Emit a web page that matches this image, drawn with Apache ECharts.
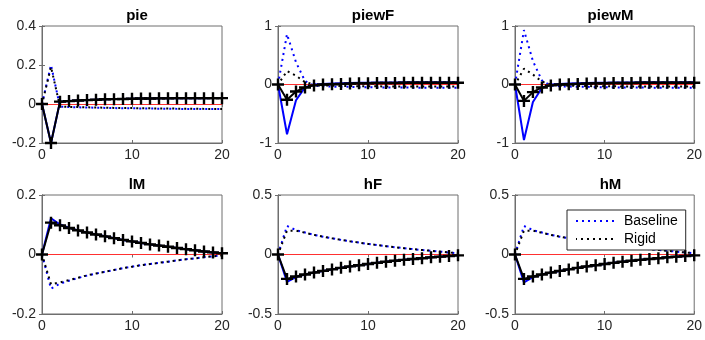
<!DOCTYPE html>
<html>
<head>
<meta charset="utf-8">
<script src="https://cdn.jsdelivr.net/npm/echarts@6/dist/echarts.min.js"></script>
<style>html,body{margin:0;padding:0;background:#fff;}#c{width:705px;height:340px;}</style>
</head>
<body>
<div id="c"></div>
<script>
// horizon
var periods = [0,1,2,3,4,5,6,7,8,9,10,11,12,13,14,15,16,17,18,19,20];

// panel titles
var titles = ['pie','piewF','piewM','lM','hF','hM'];

// y-axis settings (tick labels) per panel
var yMins = [-0.2,-1,-1,-0.2,-0.5,-0.5];
var yMaxs = [0.4,1,1,0.2,0.5,0.5];
var yIntervals = [0.2,1,1,0.2,0.5,0.5];
var xTicks = [0,10,20];

// pie
var pieBaseSolid  = [0,-0.2,0.012,0.015,0.018,0.02,0.022,0.024,0.025,0.026,0.027,0.028,0.028,0.029,0.029,0.03,0.03,0.03,0.03,0.031,0.031];
var pieRigidSolid = [0,-0.2,0.012,0.015,0.018,0.02,0.022,0.024,0.025,0.026,0.027,0.028,0.028,0.029,0.029,0.03,0.03,0.03,0.03,0.03,0.03];
var pieBaseDot    = [0,0.2,-0.014,-0.016,-0.017,-0.018,-0.019,-0.02,-0.021,-0.022,-0.022,-0.023,-0.023,-0.024,-0.024,-0.025,-0.025,-0.025,-0.026,-0.026,-0.026];
var pieRigidDot   = [0,0.19,-0.013,-0.015,-0.016,-0.017,-0.018,-0.019,-0.02,-0.021,-0.021,-0.022,-0.022,-0.023,-0.023,-0.024,-0.024,-0.024,-0.025,-0.025,-0.025];

// piewF
var piewFBaseSolid  = [0,-0.85,-0.27,-0.05,0,0.01,0.015,0.02,0.025,0.03,0.03,0.035,0.035,0.035,0.04,0.04,0.04,0.04,0.04,0.04,0.04];
var piewFRigidSolid = [0,-0.26,-0.12,-0.05,-0.015,0,0.005,0.01,0.015,0.02,0.02,0.025,0.025,0.025,0.03,0.03,0.03,0.03,0.03,0.03,0.03];
var piewFBaseDot    = [0,0.86,0.38,0.06,-0.02,-0.03,-0.035,-0.04,-0.04,-0.045,-0.045,-0.05,-0.05,-0.05,-0.05,-0.055,-0.055,-0.055,-0.055,-0.055,-0.055];
var piewFRigidDot   = [0,0.23,0.15,0.04,0,-0.015,-0.02,-0.025,-0.025,-0.03,-0.03,-0.03,-0.035,-0.035,-0.035,-0.035,-0.035,-0.035,-0.035,-0.035,-0.035];

// piewM
var piewMBaseSolid  = [0,-0.95,-0.3,-0.06,0,0.01,0.015,0.02,0.025,0.03,0.03,0.035,0.035,0.035,0.04,0.04,0.04,0.04,0.04,0.04,0.04];
var piewMRigidSolid = [0,-0.28,-0.13,-0.05,-0.015,0,0.005,0.01,0.015,0.02,0.02,0.025,0.025,0.025,0.03,0.03,0.03,0.03,0.03,0.03,0.03];
var piewMBaseDot    = [0,0.93,0.4,0.07,-0.02,-0.03,-0.035,-0.04,-0.04,-0.045,-0.045,-0.05,-0.05,-0.05,-0.05,-0.055,-0.055,-0.055,-0.055,-0.055,-0.055];
var piewMRigidDot   = [0,0.27,0.17,0.05,0,-0.015,-0.02,-0.025,-0.025,-0.03,-0.03,-0.03,-0.035,-0.035,-0.035,-0.035,-0.035,-0.035,-0.035,-0.035,-0.035];

// lM
var lMBaseSolid  = [0,0.122,0.101,0.09,0.081,0.074,0.067,0.061,0.055,0.049,0.044,0.039,0.034,0.03,0.026,0.022,0.018,0.014,0.01,0.007,0.004];
var lMRigidSolid = [0,0.107,0.098,0.089,0.081,0.074,0.067,0.061,0.055,0.049,0.044,0.039,0.034,0.03,0.026,0.022,0.018,0.014,0.01,0.007,0.004];
var lMBaseDot    = [0,-0.115,-0.098,-0.088,-0.079,-0.071,-0.064,-0.058,-0.052,-0.046,-0.041,-0.036,-0.032,-0.028,-0.024,-0.02,-0.016,-0.013,-0.009,-0.006,-0.003];
var lMRigidDot   = [0,-0.1,-0.094,-0.086,-0.078,-0.07,-0.064,-0.058,-0.052,-0.046,-0.041,-0.036,-0.032,-0.028,-0.024,-0.02,-0.016,-0.013,-0.009,-0.006,-0.003];

// hF
var hFBaseSolid  = [0,-0.23,-0.19,-0.168,-0.152,-0.138,-0.125,-0.112,-0.1,-0.09,-0.08,-0.07,-0.061,-0.053,-0.045,-0.038,-0.031,-0.024,-0.018,-0.012,-0.007];
var hFRigidSolid = [0,-0.205,-0.185,-0.168,-0.152,-0.138,-0.125,-0.112,-0.1,-0.09,-0.08,-0.07,-0.061,-0.053,-0.045,-0.038,-0.031,-0.024,-0.018,-0.012,-0.007];
var hFBaseDot    = [0,0.24,0.205,0.185,0.165,0.15,0.136,0.123,0.111,0.1,0.089,0.079,0.07,0.061,0.053,0.045,0.038,0.031,0.024,0.017,0.011];
var hFRigidDot   = [0,0.2,0.2,0.183,0.165,0.15,0.136,0.123,0.111,0.1,0.089,0.079,0.07,0.061,0.053,0.045,0.038,0.031,0.024,0.017,0.011];

// hM
var hMBaseSolid  = [0,-0.235,-0.19,-0.168,-0.152,-0.138,-0.125,-0.112,-0.1,-0.09,-0.08,-0.07,-0.061,-0.053,-0.045,-0.038,-0.031,-0.024,-0.018,-0.012,-0.007];
var hMRigidSolid = [0,-0.205,-0.185,-0.168,-0.152,-0.138,-0.125,-0.112,-0.1,-0.09,-0.08,-0.07,-0.061,-0.053,-0.045,-0.038,-0.031,-0.024,-0.018,-0.012,-0.007];
var hMBaseDot    = [0,0.24,0.205,0.185,0.165,0.15,0.136,0.123,0.111,0.1,0.089,0.079,0.07,0.061,0.053,0.045,0.038,0.031,0.024,0.017,0.011];
var hMRigidDot   = [0,0.2,0.2,0.183,0.165,0.15,0.136,0.123,0.111,0.1,0.089,0.079,0.07,0.061,0.053,0.045,0.038,0.031,0.024,0.017,0.011];

var panelData = [
  [pieBaseDot, pieRigidDot, pieBaseSolid, pieRigidSolid],
  [piewFBaseDot, piewFRigidDot, piewFBaseSolid, piewFRigidSolid],
  [piewMBaseDot, piewMRigidDot, piewMBaseSolid, piewMRigidSolid],
  [lMBaseDot, lMRigidDot, lMBaseSolid, lMRigidSolid],
  [hFBaseDot, hFRigidDot, hFBaseSolid, hFRigidSolid],
  [hMBaseDot, hMRigidDot, hMBaseSolid, hMRigidSolid]
];

// layout
var colLeft = [42, 278, 515];
var colWidth = [180, 180, 181];
var rowTop = [26, 195];
var rowHeight = [117, 119];

var FONT = '"Liberation Sans", Arial, Helvetica, sans-serif';
var BOX = '#6e6e6e';
var TXT = '#262626';
var plusPath = 'path://M4,0H6V4H10V6H6V10H4V6H0V4H4Z';

function pairs(arr){ return periods.map(function(p,i){ return [p, arr[i]]; }); }

var grids=[], xAxes=[], yAxes=[], series=[], titleList=[];
for (var k=0;k<6;k++){
  var r = Math.floor(k/3), c = k%3;
  grids.push({left:colLeft[c], top:rowTop[r], width:colWidth[c], height:rowHeight[r],
    show:true, borderColor:BOX, borderWidth:1, backgroundColor:'#fff', containLabel:false});
  titleList.push({text:titles[k], left:colLeft[c]+colWidth[c]/2, top:rowTop[r]-23, textAlign:'center',
    textStyle:{fontFamily:FONT, fontSize:15, fontWeight:'bold', color:'#000'}});
  var xi = xAxes.length;
  xAxes.push({type:'value', gridIndex:k, min:xTicks[0], max:xTicks[2], interval:xTicks[1]-xTicks[0],
    axisLine:{show:true, onZero:false, lineStyle:{color:BOX}},
    axisTick:{show:true, inside:true, length:3, lineStyle:{color:BOX}},
    axisLabel:{fontFamily:FONT, fontSize:14, color:TXT, margin:5},
    splitLine:{show:false}});
  xAxes.push({type:'value', gridIndex:k, position:'top', min:xTicks[0], max:xTicks[2], interval:xTicks[1]-xTicks[0],
    axisLine:{show:true, lineStyle:{color:BOX}},
    axisTick:{show:true, inside:true, length:3, lineStyle:{color:BOX}},
    axisLabel:{show:false}, splitLine:{show:false}});
  var yi = yAxes.length;
  yAxes.push({type:'value', gridIndex:k, min:yMins[k], max:yMaxs[k], interval:yIntervals[k],
    axisLine:{show:true, onZero:false, lineStyle:{color:BOX}},
    axisTick:{show:true, inside:true, length:3, lineStyle:{color:BOX}},
    axisLabel:{fontFamily:FONT, fontSize:14, color:TXT, margin:6},
    splitLine:{show:false}});
  yAxes.push({type:'value', gridIndex:k, position:'right', min:yMins[k], max:yMaxs[k], interval:yIntervals[k],
    axisLine:{show:true, lineStyle:{color:BOX}},
    axisTick:{show:true, inside:true, length:3, lineStyle:{color:BOX}},
    axisLabel:{show:false}, splitLine:{show:false}});
  var d = panelData[k];
  series.push({name:'Baseline', type:'line', xAxisIndex:xi, yAxisIndex:yi, data:pairs(d[0]),
    symbol:'none', lineStyle:{color:'#0000ff', width:2, type:[2,4]}, itemStyle:{color:'#0000ff'},
    markLine:{silent:true, symbol:'none', label:{show:false}, lineStyle:{color:'#ff3030', width:1, type:'solid'},
      data:[{yAxis:0}]}, z:2});
  series.push({name:'Rigid', type:'line', xAxisIndex:xi, yAxisIndex:yi, data:pairs(d[1]),
    symbol:'none', lineStyle:{color:'#000000', width:2, type:[2,4], dashOffset:1}, itemStyle:{color:'#000'}, z:3});
  series.push({name:'Baseline solid', type:'line', xAxisIndex:xi, yAxisIndex:yi, data:pairs(d[2]),
    symbol:'none', lineStyle:{color:'#0000ff', width:2}, itemStyle:{color:'#0000ff'}, z:4});
  series.push({name:'Rigid solid', type:'line', xAxisIndex:xi, yAxisIndex:yi, data:pairs(d[3]),
    symbol:plusPath, symbolSize:12, showSymbol:true, showAllSymbol:true,
    lineStyle:{color:'#000000', width:2}, itemStyle:{color:'#000000'}, z:5});
}

var chart = echarts.init(document.getElementById('c'), null, {renderer:'canvas'});
chart.setOption({
  animation:false,
  backgroundColor:'#fff',
  title:titleList,
  grid:grids, xAxis:xAxes, yAxis:yAxes, series:series,
  legend:{data:['Baseline','Rigid'], orient:'vertical', left:567, top:210,
    width:115, padding:[4,8,4,8], itemWidth:38, itemHeight:14, itemGap:4,
    backgroundColor:'#fff', borderColor:'#262626', borderWidth:1,
    itemStyle:{opacity:0, borderWidth:0},
    textStyle:{fontFamily:FONT, fontSize:14, color:'#000', padding:[0,0,0,5]},
    selectedMode:false, z:10}
});
</script>
</body>
</html>
